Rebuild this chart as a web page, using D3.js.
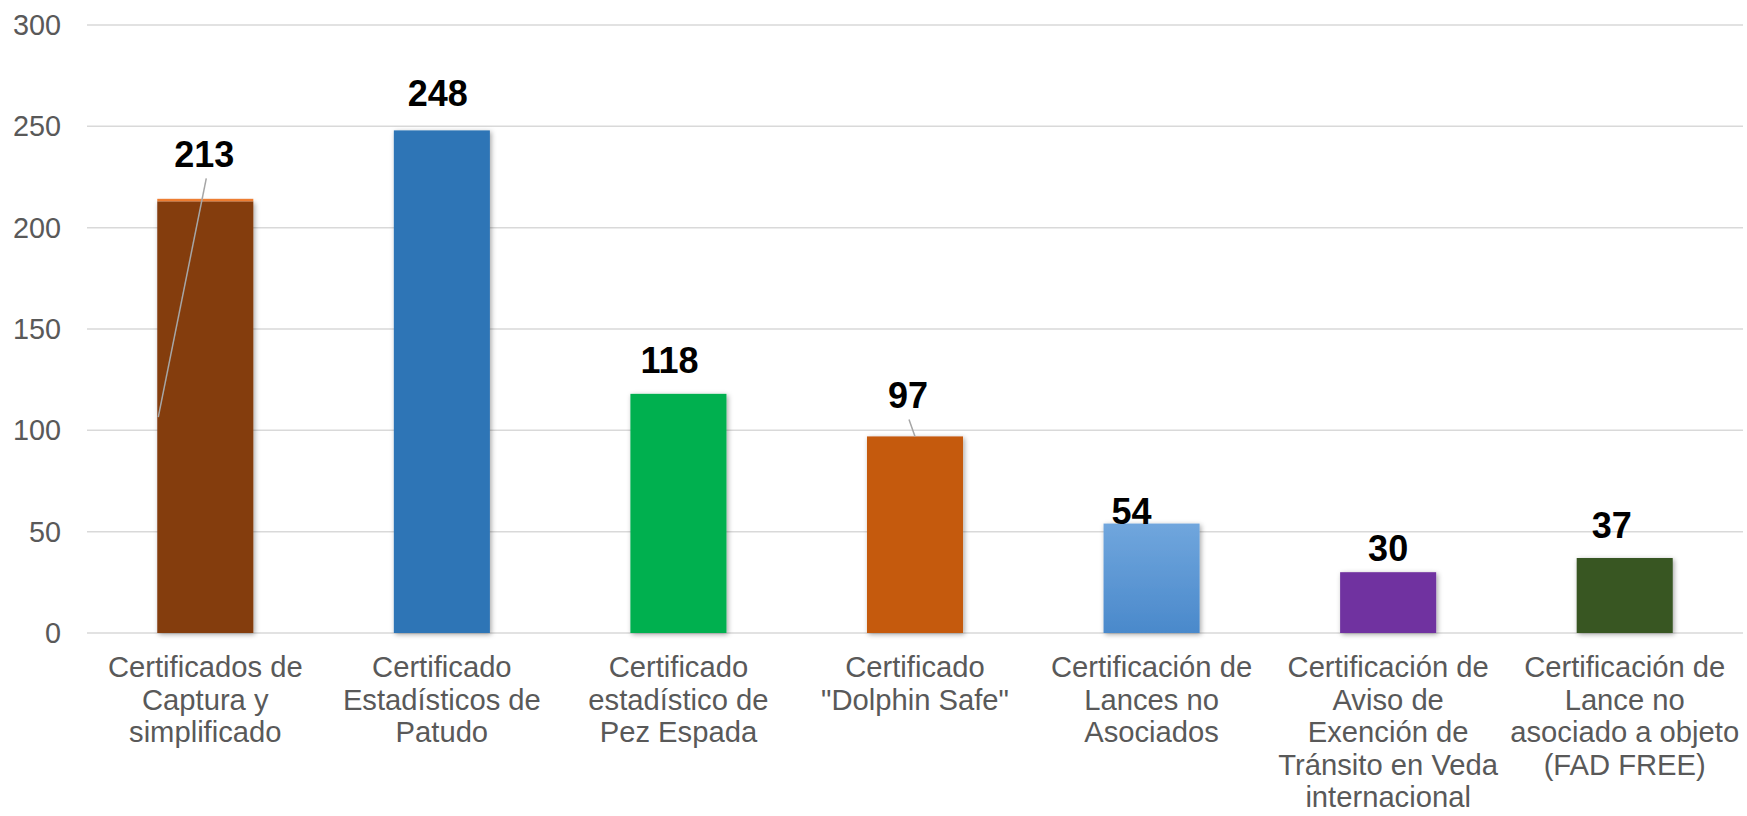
<!DOCTYPE html>
<meta charset="utf-8">
<head>
  <title>Certificados emitidos</title>
  <script src="https://cdn.jsdelivr.net/npm/d3@7"></script>
  <style>
    body { margin: 0; background: #fff; }
    text { font-family: "Liberation Sans", Arial, sans-serif; }
    .grid line { stroke: #d9d9d9; stroke-width: 1.5; }
    .ylab { fill: #595959; font-size: 28.8px; }
    .xlab { fill: #595959; font-size: 29.2px; }
    .val { fill: #000; font-size: 36px; font-weight: bold; }
  </style>
</head>
<body>
<svg id="chart" width="1747" height="816"></svg>
<script>
  // data
  var categories = [
    ["Certificados de", "Captura y", "simplificado"],
    ["Certificado", "Estadísticos de", "Patudo"],
    ["Certificado", "estadístico de", "Pez Espada"],
    ["Certificado", "\"Dolphin Safe\""],
    ["Certificación de", "Lances no", "Asociados"],
    ["Certificación de", "Aviso de", "Exención de", "Tránsito en Veda", "internacional"],
    ["Certificación de", "Lance no", "asociado a objeto", "(FAD FREE)"]
  ];
  var values = [213, 248, 118, 97, 54, 30, 37];
  var yTicks = [0, 50, 100, 150, 200, 250, 300];

  // styling per bar
  var colors = ["#843c0c", "#2e75b6", "#00b050", "#c55a11", "url(#blueGrad)", "#7030a0", "#375623"];
  // label nudges (dx from band centre, dy above bar top) as placed in the original
  var labelDx = [-1, -4, -9, -7, -20, 0, -13];
  var labelDy = [34, 24, 21, 28, 0, 11, 20];

  var W = 1747, H = 816;
  var mLeft = 87, mRight = 1743, mTop = 25, mBottom = 633;

  var svg = d3.select("#chart");
  var defs = svg.append("defs");
  var g1 = defs.append("linearGradient").attr("id", "blueGrad")
      .attr("x1", 0).attr("y1", 0).attr("x2", 0).attr("y2", 1);
  g1.append("stop").attr("offset", "0%").attr("stop-color", "#70a6dd");
  g1.append("stop").attr("offset", "100%").attr("stop-color", "#4a89cb");
  var f = defs.append("filter").attr("id", "shadow")
      .attr("x", "-20%").attr("y", "-20%").attr("width", "140%").attr("height", "140%");
  f.append("feDropShadow").attr("dx", 1.5).attr("dy", 1.5).attr("stdDeviation", 2.5)
      .attr("flood-color", "#000").attr("flood-opacity", 0.35);

  var x = d3.scaleBand().domain(d3.range(values.length)).range([mLeft, mRight]).paddingInner(0.594).paddingOuter(0.297);
  var y = d3.scaleLinear().domain([0, 300]).range([mBottom, mTop]);

  // gridlines
  svg.append("g").attr("class", "grid")
    .selectAll("line").data(yTicks).enter().append("line")
    .attr("x1", mLeft).attr("x2", mRight)
    .attr("y1", d => y(d)).attr("y2", d => y(d));

  // y labels
  svg.append("g").selectAll("text").data(yTicks).enter().append("text")
    .attr("class", "ylab")
    .attr("x", 61).attr("y", d => y(d) + 10)
    .attr("text-anchor", "end")
    .text(d => d);

  // bars
  svg.append("g").selectAll("rect").data(values).enter().append("rect")
    .attr("x", (d, i) => x(i))
    .attr("y", d => y(d))
    .attr("width", x.bandwidth())
    .attr("height", d => y(0) - y(d))
    .attr("fill", (d, i) => colors[i])
    .attr("filter", "url(#shadow)");

  // thin orange cap on the first bar
  svg.append("rect")
    .attr("x", x(0)).attr("y", y(values[0]) - 2.5)
    .attr("width", x.bandwidth()).attr("height", 2.5)
    .attr("fill", "#ed7d31");

  // value labels
  var cx = i => x(i) + x.bandwidth() / 2;
  svg.append("g").selectAll("text").data(values).enter().append("text")
    .attr("class", "val")
    .attr("x", (d, i) => cx(i) + labelDx[i])
    .attr("y", (d, i) => y(d) - labelDy[i])
    .attr("text-anchor", "middle")
    .text(d => d);

  // leader lines
  svg.append("line")
    .attr("x1", cx(0) + labelDx[0] + 2).attr("y1", y(values[0]) - labelDy[0] + 11)
    .attr("x2", x(0) + 1).attr("y2", y(values[0] / 2))
    .attr("stroke", "#a6a6a6").attr("stroke-width", 1.5);
  svg.append("line")
    .attr("x1", cx(3) + labelDx[3] + 1).attr("y1", y(values[3]) - labelDy[3] + 11)
    .attr("x2", cx(3)).attr("y2", y(values[3]))
    .attr("stroke", "#a6a6a6").attr("stroke-width", 1.5);

  // category labels
  var xl = svg.append("g").selectAll("text").data(categories).enter().append("text")
    .attr("class", "xlab")
    .attr("text-anchor", "middle")
    .attr("x", (d, i) => cx(i))
    .attr("y", 677);
  xl.selectAll("tspan").data(d => d).enter().append("tspan")
    .attr("x", function () { return d3.select(this.parentNode).attr("x"); })
    .attr("dy", (d, j) => j === 0 ? 0 : 32.5)
    .text(d => d);
</script>
</body>
